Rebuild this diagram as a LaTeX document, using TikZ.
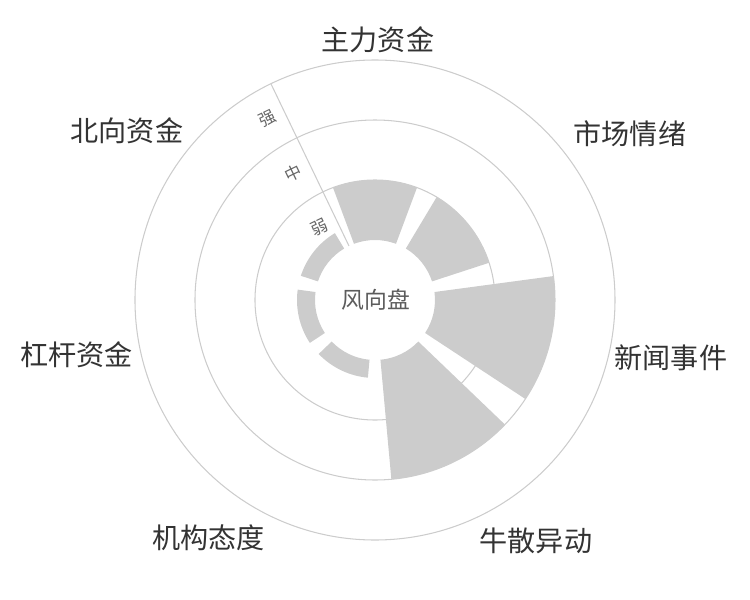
\documentclass[tikz,border=0pt]{standalone}
\usepackage{fontspec}
\setmainfont{Noto Sans CJK SC}
\definecolor{bargray}{HTML}{CCCCCC}
\definecolor{gridgray}{HTML}{CCCCCC}
\definecolor{labelgray}{HTML}{333333}
\definecolor{tickgray}{HTML}{666666}

\begin{document}
\begin{tikzpicture}[grid/.style={draw=gridgray,line width=0.6pt},
    catlabel/.style={text=labelgray,font=\fontsize{16}{16}\selectfont,inner sep=0pt}]
      \useasboundingbox (-7.5,-6) rectangle (7.5,6);
      % rings and radial axis
      \foreach \r in {2.4,3.6,4.8}
        \draw[grid] (0,0) circle[radius=\r];
      \draw[grid] (115.7:1.2) -- (115.7:4.8);
      % bars, one per category
      \foreach \k/\r in {0/2.4,1/2.4,2/3.6,3/3.6,4/1.56,5/1.56,6/1.56} {%
        \pgfmathsetmacro{\a}{90-\k*360/7}
        \fill[bargray] (\a-20.5:1.2) arc[start angle=\a-20.5,end angle=\a+20.5,radius=1.2]
          -- (\a+20.5:\r) arc[start angle=\a+20.5,end angle=\a-20.5,radius=\r] -- cycle;
      }
      \foreach \r/\t/\n in {1.8/弱/ruo,3.0/中/zhong,4.2/强/qiang}
        \node[text=tickgray,font=\fontsize{9.5}{10}\selectfont,rotate=25.7,inner sep=0pt]
          (\n) at ([shift={(205.7:0.37)}]115.7:\r) {\t};
      \node[text=labelgray!80,font=\fontsize{13}{13}\selectfont] (centre) at (0.02,0) {风向盘};
      % category labels
      \foreach \x/\y/\t/\n in {0.06/5.2/主力资金/zhuli,5.1/3.32/市场情绪/qingxu,
          5.92/-1.16/新闻事件/xinwen,3.22/-4.81/牛散异动/niusan,-3.33/-4.76/机构态度/jigou,
          -5.97/-1.1/杠杆资金/ganggan,-4.96/3.39/北向资金/beixiang}
        \node[catlabel] (\n) at (\x,\y) {\t};
    \end{tikzpicture}
\end{document}
